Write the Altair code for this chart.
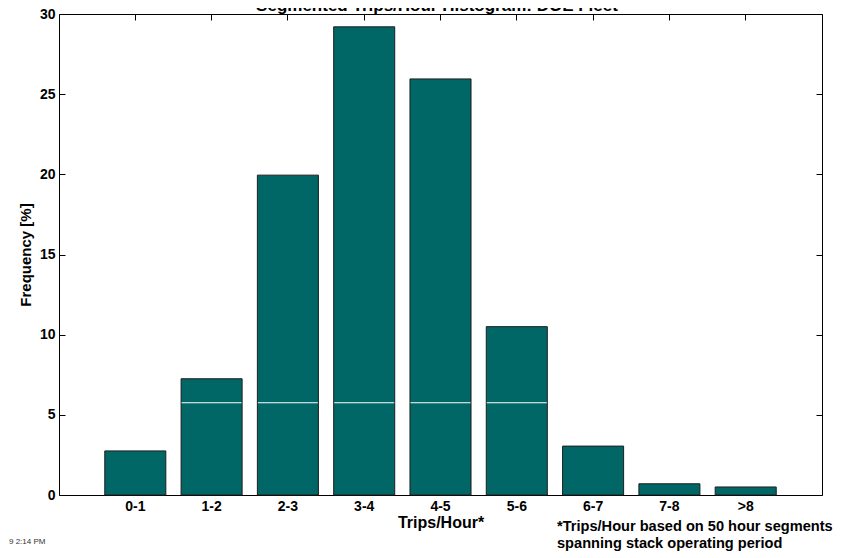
import altair as alt
import pandas as pd

# ---- data ----
categories = ["0-1", "1-2", "2-3", "3-4", "4-5", "5-6", "6-7", "7-8", ">8"]
frequency = [2.75, 7.25, 19.95, 29.2, 25.95, 10.5, 3.05, 0.7, 0.5]
line_categories = ["1-2", "2-3", "3-4", "4-5", "5-6"]
line_level = [5.75, 5.75, 5.75, 5.75, 5.75]
y_ticks = [0, 5, 10, 15, 20, 25, 30]

title_text = "Segmented Trips/Hour Histogram: DOE Fleet"
footnote_lines = ["*Trips/Hour based on 50 hour segments", "spanning stack operating period"]
timestamp_text = "9  2:14 PM"

FONT = "Liberation Sans"
TEAL = "#006666"
W, H = 763, 481
TICK = 6

df = pd.DataFrame({"cat": categories, "freq": frequency})
line_df = pd.DataFrame({"cat": line_categories, "level": line_level})

xscale = alt.Scale(domain=categories, paddingInner=0.2, paddingOuter=0.6)
yscale = alt.Scale(domain=[0, 30], nice=False, zero=True)

# main bars with labelled axes (bottom / left)
bars = alt.Chart(df).mark_bar(color=TEAL, stroke="#1e1e1e", strokeWidth=1).encode(
    x=alt.X("cat:N", scale=xscale, axis=alt.Axis(
        orient="bottom", title="Trips/Hour*", labelAngle=0, tickSize=0, domain=False,
        labelPadding=4, titlePadding=1, labelFontSize=14, titleFontSize=16,
        labelFontWeight="bold", titleFontWeight="bold", labelFont=FONT, titleFont=FONT,
        labelColor="black", titleColor="black")),
    y=alt.Y("freq:Q", scale=yscale, axis=alt.Axis(
        orient="left", title="Frequency [%]", values=y_ticks, tickSize=0, domain=False,
        grid=False, labelPadding=4, titlePadding=6, labelFontSize=14, titleFontSize=15,
        labelFontWeight="bold", titleFontWeight="bold", labelFont=FONT, titleFont=FONT,
        labelColor="black", titleColor="black")),
)

# white line across middle bars (also carries inward ticks at top and left)
white_line = alt.Chart(line_df).mark_tick(
    color="white", opacity=1, thickness=1, size=60, orient="horizontal"
).encode(
    x=alt.X("cat:N", scale=xscale, axis=alt.Axis(
        orient="bottom", offset=-H, labels=False, title=None, tickSize=TICK, domain=False,
        tickColor="black")),
    y=alt.Y("level:Q", scale=yscale, axis=alt.Axis(
        orient="right", offset=-W, values=y_ticks, labels=False, title=None, tickSize=TICK,
        domain=False, grid=False, tickColor="black")),
)

# invisible carrier for inward ticks at bottom and right
carrier = alt.Chart(df).mark_point(opacity=0).encode(
    x=alt.X("cat:N", scale=xscale, axis=alt.Axis(
        orient="top", offset=-H, labels=False, title=None, tickSize=TICK, domain=False,
        tickColor="black")),
    y=alt.Y("freq:Q", scale=yscale, axis=alt.Axis(
        orient="left", offset=-W, values=y_ticks, labels=False, title=None, tickSize=TICK,
        domain=False, grid=False, tickColor="black")),
)

title_mark = alt.Chart(pd.DataFrame({"t": [title_text]})).mark_text(
    font=FONT, fontSize=17, fontWeight="bold", align="center", baseline="alphabetic", color="black"
).encode(x=alt.value(378), y=alt.value(-3), text="t:N")

foot1 = alt.Chart(pd.DataFrame({"t": [footnote_lines[0]]})).mark_text(
    font=FONT, fontSize=14.6, fontWeight="bold", align="left", baseline="alphabetic", color="black"
).encode(x=alt.value(498), y=alt.value(517), text="t:N")
foot2 = alt.Chart(pd.DataFrame({"t": [footnote_lines[1]]})).mark_text(
    font=FONT, fontSize=14.6, fontWeight="bold", align="left", baseline="alphabetic", color="black"
).encode(x=alt.value(498), y=alt.value(534), text="t:N")

stamp = alt.Chart(pd.DataFrame({"t": [timestamp_text]})).mark_text(
    font=FONT, fontSize=8, align="left", baseline="middle", color="#333333"
).encode(x=alt.value(-50), y=alt.value(528), text="t:N")

chart = alt.layer(bars, white_line, carrier, title_mark, foot1, foot2, stamp).resolve_axis(
    x="independent", y="independent"
).properties(
    width=W, height=H,
    autosize=alt.AutoSizeParams(type="none"),
    padding={"left": 51, "top": 6, "right": 14, "bottom": 60},
    background="white",
).configure_view(
    stroke="black", strokeWidth=1
).configure_axis(
    grid=False
)

chart.save("out.html", embed_options={"renderer": "svg", "actions": False})
